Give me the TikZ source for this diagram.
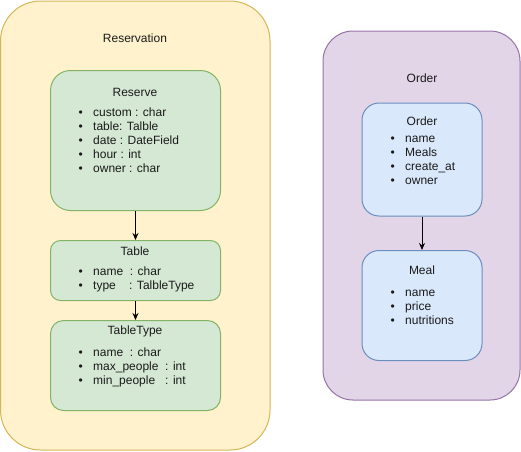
\documentclass[tikz,border=0pt]{standalone}
\usepackage{fontspec}
\setmainfont{Liberation Sans}
\usetikzlibrary{arrows.meta}
\definecolor{resfill}{HTML}{FFF2CC}
\definecolor{resdraw}{HTML}{D6B656}
\definecolor{ordfill}{HTML}{E1D5E7}
\definecolor{orddraw}{HTML}{9673A6}
\definecolor{grfill}{HTML}{D5E8D4}
\definecolor{grdraw}{HTML}{82B366}
\definecolor{blfill}{HTML}{DAE8FC}
\definecolor{bldraw}{HTML}{6C8EBF}
\definecolor{txt}{HTML}{1A1A1A}
\tikzset{
  panel/.style={line width=1pt, rounded corners=#1},
  entity/.style={line width=1pt, rounded corners=#1},
  lbl/.style={font=\fontsize{12}{14}\selectfont, text=txt, inner sep=0pt, text height=8.6pt, text depth=2.5pt, yshift=-1.5pt},
  item/.style={lbl, anchor=west},
  link/.style={line width=1pt, -{Stealth[length=7pt,width=6pt]}}
}
\newcommand{\bul}{\makebox[14.5pt][l]{•}}
\begin{document}
\begin{tikzpicture}[x=1pt,y=-1pt]
\useasboundingbox (0,0) rectangle (521,451);
% containers
\draw[panel=40pt, fill=resfill, draw=resdraw] (0.5,1) rectangle (270,450);
\draw[panel=30pt, fill=ordfill, draw=orddraw] (323,31) rectangle (520,400);
\node[lbl] (tres) at (135,38) {Reservation};
\node[lbl] (tord) at (422,78) {Order};
% entity boxes
\node[entity=20pt, fill=grfill, draw=grdraw, minimum width=170pt, minimum height=140pt, inner sep=0pt] (reserve) at (135.5,140.5) {};
\node[entity=10pt, fill=grfill, draw=grdraw, minimum width=170pt, minimum height=60pt, inner sep=0pt] (table) at (135.5,270.5) {};
\node[entity=13pt, fill=grfill, draw=grdraw, minimum width=170pt, minimum height=90pt, inner sep=0pt] (ttype) at (135.5,365.5) {};
\node[entity=17pt, fill=blfill, draw=bldraw, minimum width=120pt, minimum height=113pt, inner sep=0pt] (order) at (422,159.5) {};
\node[entity=17pt, fill=blfill, draw=bldraw, minimum width=120pt, minimum height=110pt, inner sep=0pt] (meal) at (422,305.5) {};
% Reserve
\node[lbl] (reserveT) at (135,91.5) {Reserve};
\node[item] (r1) at (78.5,111.7) {\bul custom : char};
\node[item] (r2) at (78.5,125.7) {\bul table: Talble};
\node[item] (r3) at (78.5,139.8) {\bul date : DateField};
\node[item] (r4) at (78.5,153.8) {\bul hour : int};
\node[item] (r5) at (78.5,167.8) {\bul owner : char};
% Table
\node[lbl] (tableT) at (135,250.7) {Table};
\node[item] (t1) at (78.5,271) {\bul name\ \ : char};
\node[item] (t2) at (78.5,284.5) {\bul type\ \ \ \ : TalbleType};
% TableType
\node[lbl] (ttypeT) at (135,330) {TableType};
\node[item] (y1) at (78.5,351.7) {\bul name\ \ : char};
\node[item] (y2) at (78.5,366) {\bul max\_people\ \ : int};
\node[item] (y3) at (78.5,380) {\bul min\_people\ \ \ : int};
% Order
\node[lbl] (orderT) at (422,120.7) {Order};
\node[item] (o1) at (390.5,137.7) {\bul name};
\node[item] (o2) at (390.5,151.7) {\bul Meals};
\node[item] (o3) at (390.5,166) {\bul create\_at};
\node[item] (o4) at (390.5,180) {\bul owner};
% Meal
\node[lbl] (mealT) at (422,270) {Meal};
\node[item] (m1) at (390.5,291.7) {\bul name};
\node[item] (m2) at (390.5,305.7) {\bul price};
\node[item] (m3) at (390.5,319.5) {\bul nutritions};
% links
\draw[link] (reserve.south) -- (table.north);
\draw[link] (table.south) -- (ttype.north);
\draw[link] (order.south) -- (meal.north);
\end{tikzpicture}
\end{document}
